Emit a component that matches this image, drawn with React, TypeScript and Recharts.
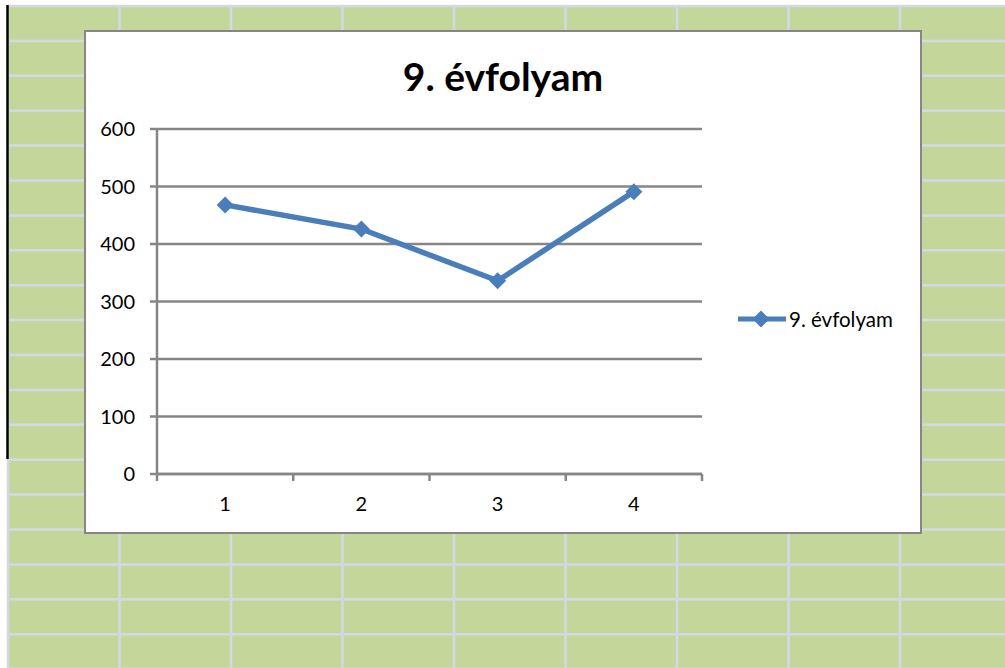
import { CartesianGrid, Legend, Line, LineChart, XAxis, YAxis } from 'recharts'

const SERIES_NAME = '9. évfolyam'
const categories = [1, 2, 3, 4]
const values = [468, 426, 336, 491]
const yTicks = [0, 100, 200, 300, 400, 500, 600]
const bandEdges = [0.5, 1.5, 2.5, 3.5, 4.5]

const BLUE = '#4A7EBB'
const AXIS = '#868686'
const FONT = 'Lato, "Open Sans", sans-serif'

const data = categories.map((c, i) => ({ x: c, value: values[i] }))

const sheetRows = Array.from({ length: 20 }, (_, i) => 6 + i * 34.9)
const sheetCols = Array.from({ length: 9 }, (_, i) => 8 + i * 111.5)

function Diamond(props: any) {
  const { cx, cy } = props
  if (cx == null || cy == null) return null
  const r = 8.5
  return (
    <polygon
      key={`d-${cx}`}
      points={`${cx},${cy - r} ${cx + r},${cy} ${cx},${cy + r} ${cx - r},${cy}`}
      fill={BLUE}
    />
  )
}

function LegendContent() {
  return (
    <div style={{ display: 'flex', alignItems: 'center', fontFamily: FONT, fontSize: 20.5, color: '#000' }}>
      <svg width={50} height={20}>
        <line x1={1} y1={10} x2={49} y2={10} stroke={BLUE} strokeWidth={5} />
        <polygon points="24,1.5 32.5,10 24,18.5 15.5,10" fill={BLUE} />
      </svg>
      <span style={{ marginLeft: 2 }}>{SERIES_NAME}</span>
    </div>
  )
}

export default function App() {
  return (
    <div style={{ position: 'fixed', left: 0, top: 0, width: 1005, height: 668, background: '#fff', overflow: 'hidden' }}>
      <svg width={1005} height={668} style={{ position: 'absolute', left: 0, top: 0 }}>
        <rect x={8} y={6} width={997} height={662} fill="#C4D79B" />
        {sheetRows.map((y) => (
          <line key={`r${y}`} x1={8} x2={1005} y1={y} y2={y} stroke="#D3D9E4" strokeWidth={2.5} />
        ))}
        {sheetCols.map((x) => (
          <line key={`c${x}`} x1={x} x2={x} y1={5} y2={668} stroke="#D3D9E4" strokeWidth={2.5} />
        ))}
        <line x1={7.5} x2={7.5} y1={5} y2={459} stroke="#000" strokeWidth={2.5} />
      </svg>

      <div
        style={{
          position: 'absolute',
          left: 84,
          top: 30,
          width: 838,
          height: 504,
          boxSizing: 'border-box',
          border: `2px solid ${AXIS}`,
          background: '#fff',
        }}
      >
        <div
          style={{
            position: 'absolute',
            left: 0,
            right: 0,
            top: 21,
            textAlign: 'center',
            fontFamily: FONT,
            fontWeight: 700,
            fontSize: 39,
            color: '#000',
          }}
        >
          {SERIES_NAME}
        </div>
        <LineChart
          width={834}
          height={500}
          data={data}
          margin={{ top: 97, right: 218, bottom: 0, left: 0 }}
          style={{ fontFamily: FONT }}
        >
          <CartesianGrid horizontal vertical={false} stroke={AXIS} strokeWidth={2.5} />
          <YAxis
            type="number"
            domain={[0, 600]}
            ticks={yTicks}
            width={71}
            axisLine={{ stroke: AXIS, strokeWidth: 2.5 }}
            tickLine={{ stroke: AXIS, strokeWidth: 2.5 }}
            tickSize={7}
            tickMargin={15}
            tick={{ fill: '#000', fontSize: 20 }}
          />
          <XAxis
            xAxisId="edges"
            dataKey="x"
            type="number"
            domain={[0.5, 4.5]}
            ticks={bandEdges}
            height={1}
            tickFormatter={() => ''}
            axisLine={{ stroke: AXIS, strokeWidth: 2.5 }}
            tickLine={{ stroke: AXIS, strokeWidth: 2.5 }}
            tickSize={7}
          />
          <XAxis
            xAxisId="labels"
            dataKey="x"
            type="number"
            domain={[0.5, 4.5]}
            ticks={categories}
            height={57}
            axisLine={false}
            tickLine={false}
            tickSize={0}
            tickMargin={22}
            tick={{ fill: '#000', fontSize: 20 }}
          />
          <Legend
            layout="horizontal"
            align="center"
            verticalAlign="middle"
            content={<LegendContent />}
            wrapperStyle={{ left: 651, top: 275, width: 180 }}
          />
          <Line
            xAxisId="edges"
            dataKey="value"
            name={SERIES_NAME}
            stroke={BLUE}
            strokeWidth={5.5}
            dot={Diamond}
            activeDot={false}
            isAnimationActive={false}
          />
        </LineChart>
      </div>
    </div>
  )
}
